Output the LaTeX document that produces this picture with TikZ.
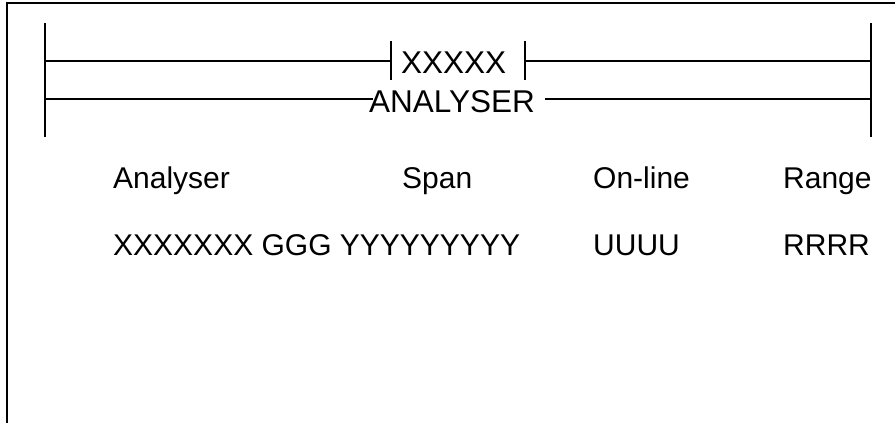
\documentclass[tikz,border=0pt]{standalone}
\usepackage{fontspec}
\setmainfont{Liberation Sans}
\begin{document}
\begin{tikzpicture}[x=1pt,y=-1pt,
  wire/.style={line width=2pt, line cap=butt},
  label/.style={inner sep=0pt, anchor=base west, font=\fontsize{30}{36}\selectfont},
  rungtext/.style={label, font=\fontsize{31.5}{38}\selectfont}]
\useasboundingbox (0,0) rectangle (895,423);

% outer frame (top and left edges)
\draw[wire] (7,423) -- (7,3) -- (895,3);

% rails
\coordinate (lt) at (45,23);  \coordinate (lb) at (45,137);
\coordinate (rt) at (871,23); \coordinate (rb) at (871,137);
\draw[wire] (lt) -- (lb);
\draw[wire] (rt) -- (rb);

% rung 1 with contact XXXXX
\coordinate (r1l) at (45,61);  \coordinate (r1r) at (871,61);
\coordinate (c1a) at (391,61); \coordinate (c1b) at (525,61);
\draw[wire] (r1l) -- (c1a);
\draw[wire] (c1b) -- (r1r);
\draw[wire] (391,41) -- (391,80);
\draw[wire] (525,41) -- (525,80);
\node[rungtext] (contact) at (401,73) {XXXXX};

% rung 2 with label ANALYSER
\coordinate (r2l) at (45,99);  \coordinate (r2r) at (871,99);
\node[rungtext] (analyser) at (369,112) {ANALYSER};
\draw[wire] (r2l) -- (373,99);
\draw[wire] (545,99) -- (r2r);

% table headings
\node[label] (h1) at (113,188) {Analyser};
\node[label] (h2) at (402,188) {Span};
\node[label] (h3) at (593,188) {On-line};
\node[label] (h4) at (783,188) {Range};

% table values
\node[label] (v1) at (113,255) {XXXXXXX GGG YYYYYYYYY};
\node[label] (v3) at (593,255) {UUUU};
\node[label] (v4) at (783,255) {RRRR};
\end{tikzpicture}
\end{document}
